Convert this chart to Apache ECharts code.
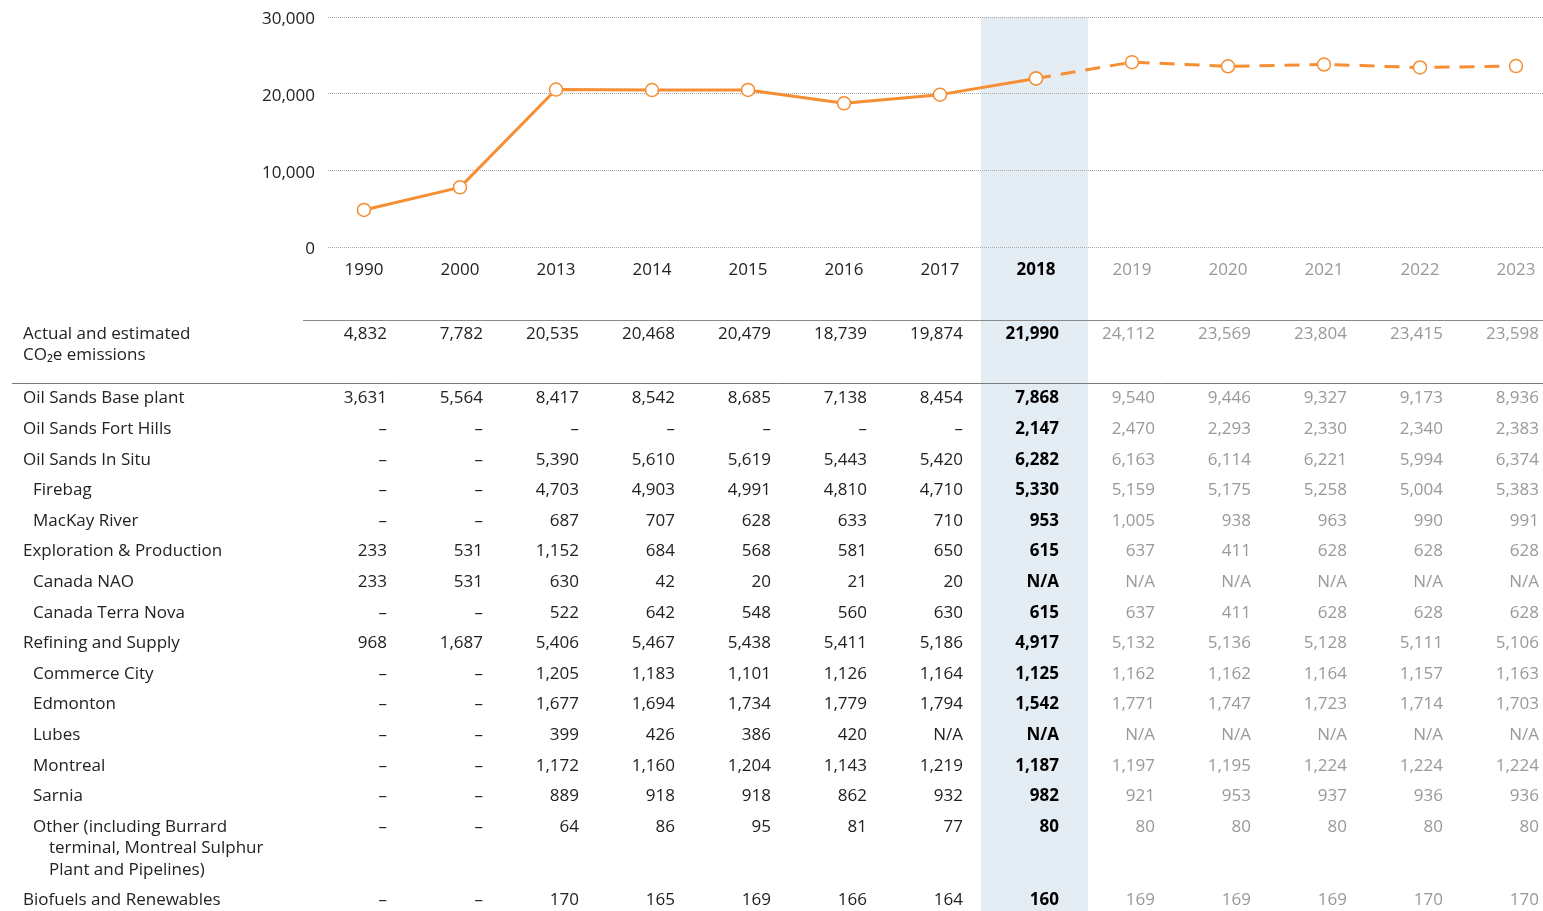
<!DOCTYPE html>
<html>
<head>
<meta charset="utf-8">
<script src="https://cdn.jsdelivr.net/npm/echarts@6/dist/echarts.min.js"></script>
<style>
html, body { margin: 0; padding: 0; background: #fff; }
#main { width: 1543px; height: 911px; }
</style>
</head>
<body>
<div id="main"></div>
<script>
// chart data
var years = ["1990", "2000", "2013", "2014", "2015", "2016", "2017", "2018", "2019", "2020", "2021", "2022", "2023"];
var emissions = [4832, 7782, 20535, 20468, 20479, 18739, 19874, 21990, 24112, 23569, 23804, 23415, 23598];
var lastActual = "2018";

// table rows (null = "–")
var baseplant = [3631, 5564, 8417, 8542, 8685, 7138, 8454, 7868, 9540, 9446, 9327, 9173, 8936];
var fortHills = [null, null, null, null, null, null, null, 2147, 2470, 2293, 2330, 2340, 2383];
var inSitu = [null, null, 5390, 5610, 5619, 5443, 5420, 6282, 6163, 6114, 6221, 5994, 6374];
var firebag = [null, null, 4703, 4903, 4991, 4810, 4710, 5330, 5159, 5175, 5258, 5004, 5383];
var mackay = [null, null, 687, 707, 628, 633, 710, 953, 1005, 938, 963, 990, 991];
var explProd = [233, 531, 1152, 684, 568, 581, 650, 615, 637, 411, 628, 628, 628];
var canadaNao = [233, 531, 630, 42, 20, 21, 20, "N/A", "N/A", "N/A", "N/A", "N/A", "N/A"];
var terraNova = [null, null, 522, 642, 548, 560, 630, 615, 637, 411, 628, 628, 628];
var refining = [968, 1687, 5406, 5467, 5438, 5411, 5186, 4917, 5132, 5136, 5128, 5111, 5106];
var commerceCity = [null, null, 1205, 1183, 1101, 1126, 1164, 1125, 1162, 1162, 1164, 1157, 1163];
var edmonton = [null, null, 1677, 1694, 1734, 1779, 1794, 1542, 1771, 1747, 1723, 1714, 1703];
var lubes = [null, null, 399, 426, 386, 420, "N/A", "N/A", "N/A", "N/A", "N/A", "N/A", "N/A"];
var montreal = [null, null, 1172, 1160, 1204, 1143, 1219, 1187, 1197, 1195, 1224, 1224, 1224];
var sarnia = [null, null, 889, 918, 918, 862, 932, 982, 921, 953, 937, 936, 936];
var other = [null, null, 64, 86, 95, 81, 77, 80, 80, 80, 80, 80, 80];
var biofuels = [null, null, 170, 165, 169, 166, 164, 160, 169, 169, 169, 170, 170];

var rowLabels = [
    "Oil Sands Base plant", "Oil Sands Fort Hills", "Oil Sands In Situ", "Firebag", "MacKay River",
    "Exploration & Production", "Canada NAO", "Canada Terra Nova", "Refining and Supply",
    "Commerce City", "Edmonton", "Lubes", "Montreal", "Sarnia",
    "Other (including Burrard\nterminal, Montreal Sulphur\nPlant and Pipelines)",
    "Biofuels and Renewables"
];
var rowLevel = [0, 0, 0, 1, 1, 0, 1, 1, 0, 1, 1, 1, 1, 1, 1, 0];
var rowValues = [baseplant, fortHills, inSitu, firebag, mackay, explProd, canadaNao, terraNova,
    refining, commerceCity, edmonton, lubes, montreal, sarnia, other, biofuels];

var orange = "#f68e34";
var font = '"Open Sans", "Noto Sans", sans-serif';
var hi = years.indexOf(lastActual);

function fmt(v) {
    if (v === null) return "\u2013";
    if (typeof v === "string") return v;
    return v.toLocaleString("en-US");
}

var chart = echarts.init(document.getElementById("main"));

var option = {
    animation: false,
    textStyle: {fontFamily: font},
    grid: [
        {left: 328, right: 0, top: 17, bottom: 664},
        {left: 364, right: 27, top: 17, bottom: 664}
    ],
    xAxis: [
        {type: "value", gridIndex: 0, show: false, min: 0, max: 1},
        {
            type: "category",
            gridIndex: 1,
            data: years,
            boundaryGap: false,
            axisLine: {show: false},
            axisTick: {show: false},
            axisLabel: {
                margin: 15,
                formatter: function (v, i) {
                    if (i === hi) return "{b|" + v + "}";
                    if (i > hi) return "{f|" + v + "}";
                    return "{a|" + v + "}";
                },
                rich: {
                    a: {fontSize: 17, color: "#222", fontFamily: font},
                    b: {fontSize: 17, color: "#000", fontWeight: "bold", fontFamily: font},
                    f: {fontSize: 17, color: "#999", fontFamily: font}
                }
            }
        }
    ],
    yAxis: [
        {
            type: "value",
            gridIndex: 0,
            min: 0,
            max: 30000,
            interval: 10000,
            axisLine: {show: false},
            axisTick: {show: false},
            axisLabel: {
                margin: 13,
                fontSize: 17,
                color: "#222",
                verticalAlign: "top",
                lineHeight: 5,
                formatter: function (v) { return v.toLocaleString("en-US"); }
            },
            splitLine: {lineStyle: {type: "dotted", color: "#a8a8a8", width: 1}}
        },
        {type: "value", gridIndex: 1, min: 0, max: 30000, show: false}
    ],
    series: [
        {
            name: "Actual",
            type: "line",
            xAxisIndex: 1,
            yAxisIndex: 1,
            data: emissions.map(function (v, i) { return i <= hi ? v : null; }),
            symbol: "circle",
            symbolSize: 13,
            lineStyle: {color: orange, width: 3},
            itemStyle: {color: "#fff", borderColor: orange, borderWidth: 1.5},
            z: 4
        },
        {
            name: "Estimated",
            type: "line",
            xAxisIndex: 1,
            yAxisIndex: 1,
            data: emissions.map(function (v, i) { return i >= hi ? v : null; }),
            symbol: "circle",
            symbolSize: 13,
            lineStyle: {color: orange, width: 3, type: [15, 10]},
            itemStyle: {color: "#fff", borderColor: orange, borderWidth: 1.5},
            z: 3
        }
    ]
};

chart.setOption(option);

// table below the chart, aligned to the category axis
var cx = years.map(function (y) { return chart.convertToPixel({xAxisIndex: 1}, y); });
var els = [];

els.push({
    type: "rect",
    z: -10,
    shape: {x: cx[hi] - 55, y: 17, width: 107, height: 911 - 17},
    style: {fill: "#e4ecf4"}
});
els.push({type: "line", shape: {x1: 303, y1: 320.5, x2: 1543, y2: 320.5}, style: {stroke: "#8a8a8a", lineWidth: 1}});
els.push({type: "line", shape: {x1: 12, y1: 383.5, x2: 1543, y2: 383.5}, style: {stroke: "#7a7a7a", lineWidth: 1}});

function txt(s, x, y, align, color, bold) {
    return {
        type: "text",
        z: 5,
        x: x,
        y: y,
        style: {
            text: s,
            fill: color,
            font: (bold ? "bold " : "") + "17px " + font,
            align: align,
            verticalAlign: "middle",
            textAlign: align,
            textVerticalAlign: "middle"
        }
    };
}

function valueCells(vals, y) {
    vals.forEach(function (v, i) {
        var color = i === hi ? "#000" : (i > hi ? "#999" : "#222");
        els.push(txt(fmt(v), cx[i] + 23, y, "right", color, i === hi));
    });
}

// header row
els.push(txt("Actual and estimated", 23, 334, "left", "#222"));
els.push(txt("CO\u2082e emissions", 23, 355.5, "left", "#222"));
valueCells(emissions, 334);

var y = 398.6;
rowLabels.forEach(function (label, r) {
    var lines = label.split("\n");
    lines.forEach(function (ln, k) {
        var x = rowLevel[r] === 0 ? 23 : 33;
        if (k > 0) x += 16;
        els.push(txt(ln, x, y + k * 21.5, "left", "#222"));
    });
    valueCells(rowValues[r], y);
    y += 30.6 + (lines.length - 1) * 21.5;
});

chart.setOption({graphic: {elements: els}});
</script>
</body>
</html>
